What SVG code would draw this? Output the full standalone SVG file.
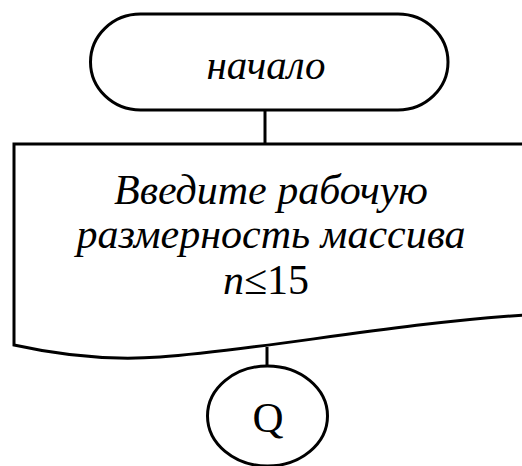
<svg xmlns="http://www.w3.org/2000/svg" width="522" height="466" viewBox="0 0 522 466">
<style>
.sh{fill:none;stroke:#000;stroke-width:3}
.t{font-family:"Liberation Serif","Times New Roman",serif;fill:#000;text-anchor:middle}
.i{font-style:italic}
</style>
<rect width="522" height="466" fill="#fff"/>
<g id="connectors" class="sh">
<line x1="265" y1="110" x2="265" y2="144"/>
<line x1="267" y1="347" x2="267" y2="367"/>
</g>
<g id="start">
<rect class="sh" x="90.5" y="14" width="357.5" height="96" rx="50" ry="48"/>
<text class="t i" x="266" y="79" font-size="41">начало</text>
</g>
<g id="input">
<path class="sh" d="M524,144 H14 V345 Q90,362 160,357 C260,350 390,324 524,315"/>
<text class="t i" x="271" y="204" font-size="42">Введите рабочую</text>
<text class="t i" x="271" y="248" font-size="42">размерность массива</text>
<text class="t" x="266" y="294" font-size="42"><tspan class="i">n</tspan>≤15</text>
</g>
<g id="connector-q">
<ellipse class="sh" cx="267.5" cy="416" rx="60" ry="50"/>
<text class="t" x="268" y="432" font-size="43">Q</text>
</g>
</svg>
